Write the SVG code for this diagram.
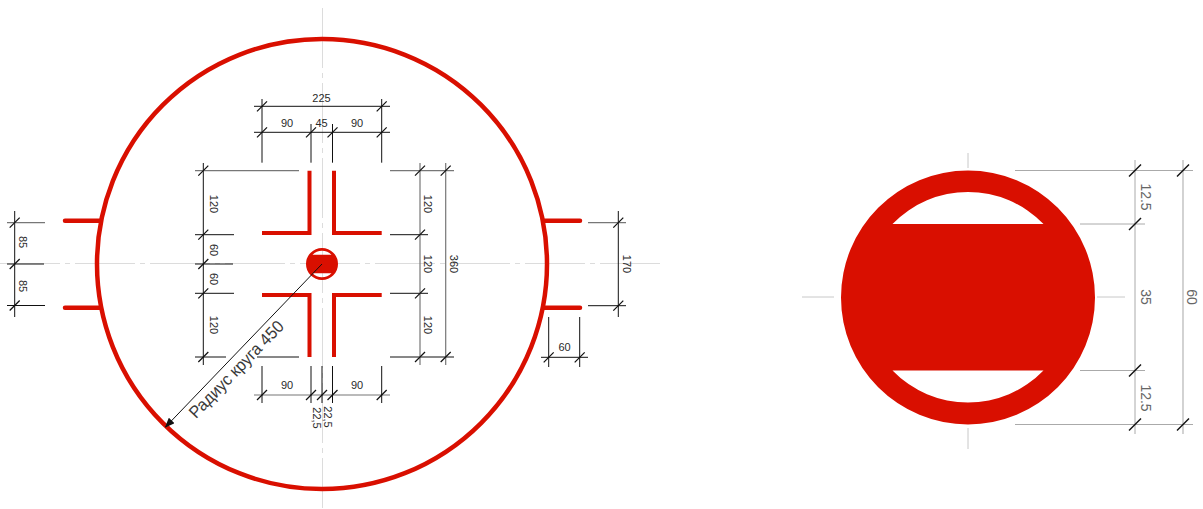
<svg xmlns="http://www.w3.org/2000/svg" width="1203" height="509" viewBox="0 0 1203 509">
<style>
text{font-family:"Liberation Sans",Arial,sans-serif;font-size:11px;fill:#2a2a2a;text-anchor:middle;dominant-baseline:central}
.ctr{stroke:#dcdcdc;stroke-width:1;fill:none;stroke-dasharray:60 5 5 5}
.dim{stroke:#111;stroke-width:1;fill:none}
.ext{stroke:#777;stroke-width:1.2;fill:none}
.tick{stroke:#111;stroke-width:1.2;fill:none}
.red{stroke:#d90f00;fill:none}
.g{stroke:#aaa;stroke-width:1;fill:none}
.c2{stroke:#c8c8c8;stroke-width:1;fill:none}
.gt{font-size:14px;fill:#666}
.bt{stroke:#111;stroke-width:1.5;fill:none}
</style>
<defs>
<path id="t" d="M-5 5L5-5"/>
<path id="T" d="M-6 6L6-6"/>
<marker id="arr" markerWidth="10" markerHeight="8" refX="9" refY="4" orient="auto" markerUnits="userSpaceOnUse"><path d="M0 0L10 4L0 8Z" fill="#111"/></marker>
</defs>
<g id="centerlines">
<path class="ctr" d="M0 263.500H663M322.500 8V508"/>
</g>
<g id="main-circle"><circle class="red" cx="322" cy="264" r="225" stroke-width="4.500"/></g>
<g id="stubs">
<path class="red" stroke-width="4.500" stroke-linecap="round" d="M65 220.700H100M65 307.700H100M544 220.700H580M544 307.700H580"/>
</g>
<g id="cross">
<path class="red" stroke-width="4" d="M309.500 170.700V233H262M334 170.700V233H381.700M309.500 357V295H262M334 357V295H381.700"/>
</g>
<g id="hub">
<path fill="#d90f00" fill-rule="evenodd" stroke="none" d="M338 264A16 16 0 1 1 306 264A16 16 0 1 1 338 264ZM312.500 254.800H331.500A13.200 13.200 0 0 0 312.500 254.800ZM312.500 273.200A13.200 13.200 0 0 0 331.500 273.200Z"/>
</g>
<g id="connectors">
<path class="dim" d="M254 106.300H390M254 132.300H390M262 99V162.700M381.700 99V162.700M311 124V162.700M332.500 124V162.700"/>
<path class="dim" d="M203.300 163V365M195 234.700H234M195 264H233M195 293.300H234M195 357H226M257 357H299M390 234.700H428M390 293.300H428M390 357H454"/>
<path class="ext" d="M195 170.700H299M390 170.700H454M420 163V365M445.700 163V365"/>
<path class="ext" d="M254 395H390"/>
<path class="dim" d="M262 366V403M311 366V403M322 366V403M332.500 366V403M381.700 366V403"/>
<path class="dim" d="M14.700 211V317M7 264H44M7 305.500H45M588 305.700H626M618.300 211V317M541 357.300H588M548.700 317V367M579.700 317V367"/>
<path class="ext" d="M7 222.700H45M588 222.700H626"/>
<g class="tick">
<use href="#t" x="262" y="106.300"/><use href="#t" x="381.700" y="106.300"/>
<use href="#t" x="262" y="132.300"/><use href="#t" x="311" y="132.300"/><use href="#t" x="332.500" y="132.300"/><use href="#t" x="381.700" y="132.300"/>
<use href="#t" x="203.300" y="170.700"/><use href="#t" x="203.300" y="234.700"/><use href="#t" x="203.300" y="264"/><use href="#t" x="203.300" y="293.300"/><use href="#t" x="203.300" y="357"/>
<use href="#t" x="420" y="170.700"/><use href="#t" x="420" y="234.700"/><use href="#t" x="420" y="293.300"/><use href="#t" x="420" y="357"/>
<use href="#t" x="445.700" y="170.700"/><use href="#t" x="445.700" y="357"/>
<use href="#t" x="262" y="395"/><use href="#t" x="311" y="395"/><use href="#t" x="322" y="395"/><use href="#t" x="332.500" y="395"/><use href="#t" x="381.700" y="395"/>
<use href="#t" x="14.700" y="222.700"/><use href="#t" x="14.700" y="264"/><use href="#t" x="14.700" y="305.500"/>
<use href="#t" x="618.300" y="222.700"/><use href="#t" x="618.300" y="305.700"/>
<use href="#t" x="548.700" y="357.300"/><use href="#t" x="579.700" y="357.300"/>
</g>
<path d="M322 264L165.500 427" stroke="#111" stroke-width="1" fill="none" marker-end="url(#arr)"/>
<path class="c2" d="M802 297H834M1097 297H1125M968 153V168M968 428V449"/>
<path class="g" d="M1015 170.500H1193M1080 224H1145M1080 370.500H1145M1015 424.500H1193M1135 160V434"/>
<path d="M1183 160V434" stroke="#bbb" stroke-width="1.300" fill="none"/>
<g class="bt">
<use href="#T" x="1135" y="170.500"/><use href="#T" x="1135" y="224"/><use href="#T" x="1135" y="370.500"/><use href="#T" x="1135" y="424.500"/>
<use href="#T" x="1183" y="170.500"/><use href="#T" x="1183" y="424.500"/>
</g>
</g>
<g id="disc">
<path fill="#d90f00" fill-rule="evenodd" d="M1095 297.500A127 127 0 1 1 841 297.500A127 127 0 1 1 1095 297.500ZM892.500 224H1043.500A105 105 0 0 0 892.500 224ZM892.500 370.500H1043.500A105 105 0 0 1 892.500 370.500Z"/>
</g>
<g id="labels">
<text x="321.500" y="98">225</text>
<text x="287" y="123">90</text><text x="321.500" y="123">45</text><text x="357" y="123">90</text>
<text x="287" y="385">90</text><text x="357" y="385">90</text>
<text x="564.500" y="347">60</text>
<text transform="translate(214 204) rotate(90)" x="0" y="0">120</text>
<text transform="translate(214 250) rotate(90)" x="0" y="0">60</text>
<text transform="translate(214 279) rotate(90)" x="0" y="0">60</text>
<text transform="translate(214 325) rotate(90)" x="0" y="0">120</text>
<text transform="translate(428 204) rotate(90)" x="0" y="0">120</text>
<text transform="translate(428 264) rotate(90)" x="0" y="0">120</text>
<text transform="translate(428 325) rotate(90)" x="0" y="0">120</text>
<text transform="translate(454 264) rotate(90)" x="0" y="0">360</text>
<text transform="translate(23 242) rotate(90)" x="0" y="0">85</text>
<text transform="translate(23 286) rotate(90)" x="0" y="0">85</text>
<text transform="translate(627 264) rotate(90)" x="0" y="0">170</text>
<text transform="translate(316.500 418) rotate(90)" x="0" y="0">22,5</text>
<text transform="translate(327.500 417) rotate(90)" x="0" y="0">22,5</text>
<text transform="translate(236.500 369.500) rotate(-46)" x="0" y="0" style="font-size:17px;fill:#3a3a3a" textLength="128" lengthAdjust="spacingAndGlyphs">Радиус круга 450</text>
<text class="gt" transform="translate(1146 197) rotate(90)" x="0" y="0">12.5</text>
<text class="gt" transform="translate(1146 297) rotate(90)" x="0" y="0">35</text>
<text class="gt" transform="translate(1192 297) rotate(90)" x="0" y="0">60</text>
<text class="gt" transform="translate(1146 398) rotate(90)" x="0" y="0">12.5</text>
</g>
</svg>
